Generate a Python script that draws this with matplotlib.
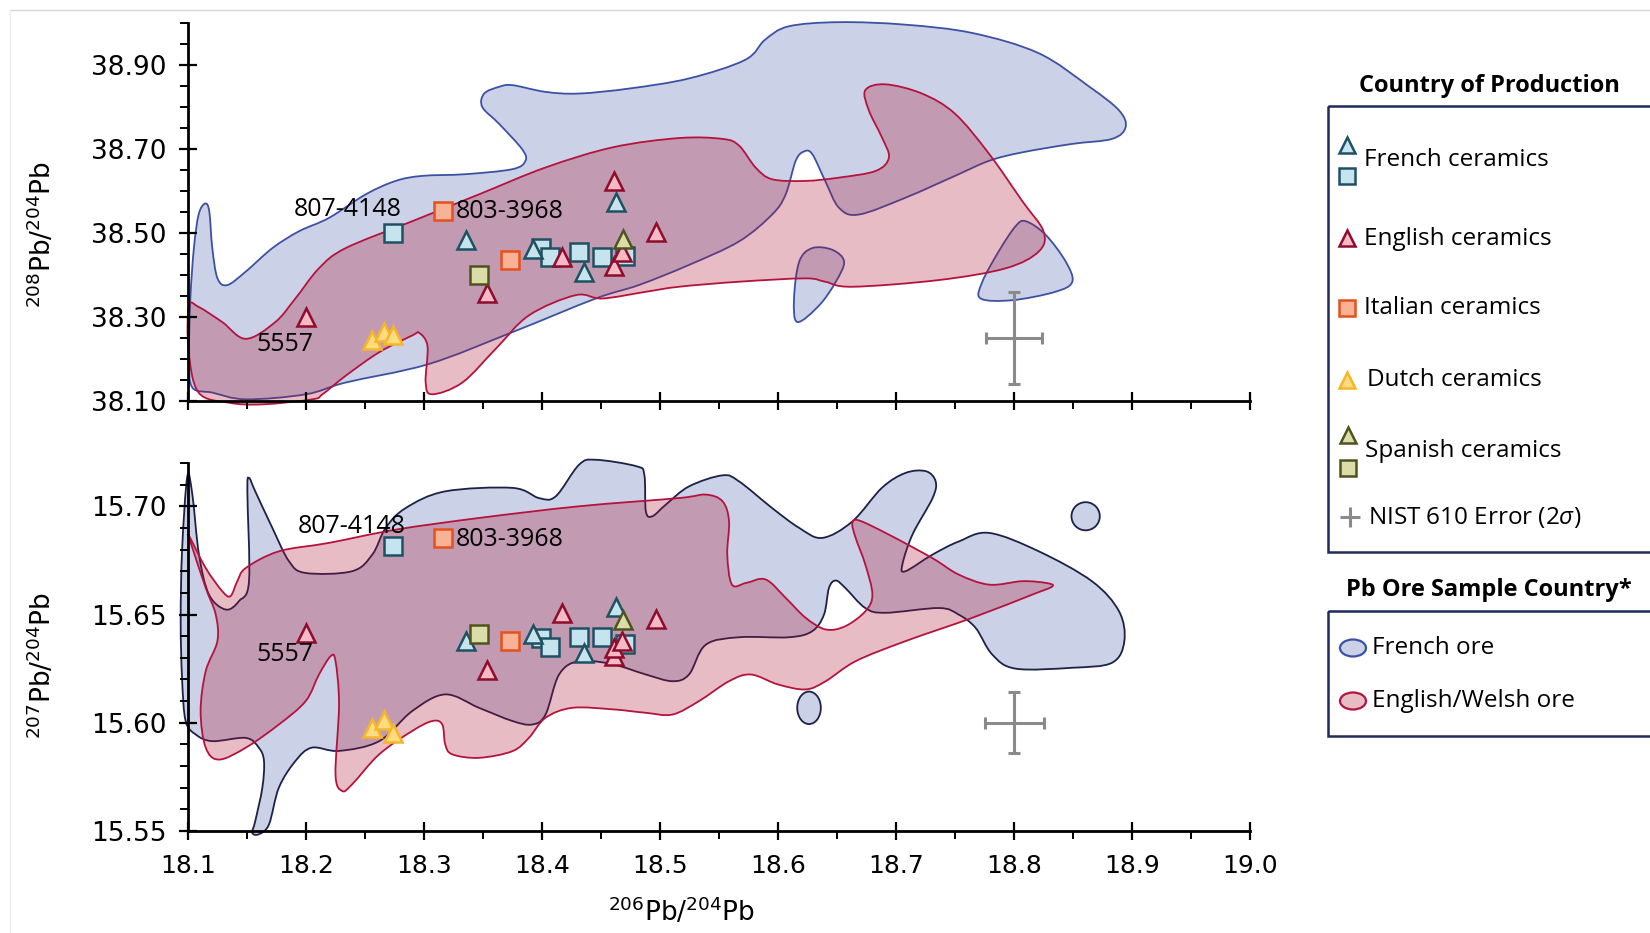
import numpy as np
import matplotlib
matplotlib.use("Agg")
import matplotlib.pyplot as plt
from matplotlib.path import Path
from matplotlib.patches import PathPatch, Ellipse, Rectangle
from matplotlib.ticker import FixedLocator, MultipleLocator, FormatStrFormatter

plt.rcParams["mathtext.fontset"] = "custom"
plt.rcParams["mathtext.rm"] = "Liberation Sans Narrow"
plt.rcParams["mathtext.it"] = "Open Sans:italic"

# ── ceramics: 206Pb/204Pb, 208Pb/204Pb, 207Pb/204Pb ─────────────────
fr_tri_206 = [18.336, 18.392, 18.436, 18.463]
fr_tri_208 = [38.484, 38.462, 38.408, 38.574]
fr_tri_207 = [15.638, 15.641, 15.632, 15.6535]

fr_sq_206 = [18.274, 18.399, 18.407, 18.431, 18.451, 18.470]
fr_sq_208 = [38.500, 38.465, 38.444, 38.455, 38.444, 38.446]
fr_sq_207 = [15.6815, 15.639, 15.635, 15.6395, 15.6395, 15.6365]

en_206 = [18.200, 18.353, 18.417, 18.461, 18.461, 18.468, 18.497]
en_208 = [38.300, 38.356, 38.444, 38.623, 38.421, 38.455, 38.502]
en_207 = [15.6415, 15.6242, 15.6508, 15.6308, 15.6346, 15.6377, 15.648]

it_206 = [18.316, 18.373]
it_208 = [38.553, 38.436]
it_207 = [15.6854, 15.6377]

nl_206 = [18.256, 18.2665, 18.274]
nl_208 = [38.246, 38.265, 38.256]
nl_207 = [15.5977, 15.6015, 15.5954]

es_tri_206 = [18.469]
es_tri_208 = [38.486]
es_tri_207 = [15.6477]
es_sq_206 = [18.347]
es_sq_208 = [38.401]
es_sq_207 = [15.6408]

labels = ["807-4148", "803-3968", "5557"]

# NIST 610 2-sigma error
nist_206 = 18.80
nist_err_206 = [0.024, 0.025]
nist_208, nist_err_208 = 38.25, 0.11
nist_207, nist_err_207 = 15.60, 0.014

# ── ore fields (outline vertices) ─────────────────────────────────
fr_ore_208_x = [18.1037, 18.1008, 18.1020, 18.1050, 18.1090, 18.1144, 18.1180,
                18.1206, 18.1250, 18.1333, 18.1489, 18.1715, 18.1940, 18.2195,
                18.2506, 18.2760, 18.2986, 18.3350, 18.3750, 18.3860, 18.3830,
                18.3636, 18.3494, 18.3510, 18.3636, 18.3750, 18.4030, 18.4310,
                18.4740, 18.5246, 18.5720, 18.5890, 18.6090, 18.6517, 18.7080,
                18.7650, 18.8210, 18.8640, 18.8890, 18.8946, 18.8830, 18.8490,
                18.8070, 18.7790, 18.7500, 18.7080, 18.6686, 18.6517, 18.6400,
                18.6290, 18.6220, 18.6150, 18.6065, 18.5950, 18.5670, 18.5246,
                18.4820, 18.4455, 18.3750, 18.3040, 18.2336, 18.2000, 18.1490,
                18.1206]
fr_ore_208_y = [38.132, 38.200, 38.344, 38.464, 38.544, 38.570, 38.552,
                38.464, 38.392, 38.376, 38.408, 38.464, 38.504, 38.536,
                38.592, 38.624, 38.636, 38.640, 38.652, 38.672, 38.700,
                38.760, 38.800, 38.832, 38.848, 38.852, 38.836, 38.832,
                38.844, 38.868, 38.912, 38.960, 38.992, 39.002, 38.996,
                38.976, 38.928, 38.848, 38.792, 38.752, 38.724, 38.712,
                38.692, 38.672, 38.636, 38.584, 38.544, 38.560, 38.624,
                38.688, 38.694, 38.672, 38.592, 38.544, 38.480, 38.424,
                38.376, 38.344, 38.264, 38.188, 38.144, 38.116, 38.104,
                38.120]
fr_ore_208_spur_x = [18.6164, 18.6136, 18.6180, 18.6290, 18.6460, 18.6560, 18.6490, 18.6350]
fr_ore_208_spur_y = [38.288, 38.344, 38.432, 38.464, 38.460, 38.432, 38.384, 38.328]
fr_ore_208_east_x = [18.8100, 18.8267, 18.8438, 18.8494, 18.8350, 18.7986, 18.7718,
                     18.7732, 18.7870, 18.8013]
fr_ore_208_east_y = [38.528, 38.496, 38.432, 38.384, 38.360, 38.340, 38.344,
                     38.384, 38.456, 38.516]

en_ore_208_x = [18.1008, 18.1090, 18.1290, 18.1490, 18.1740, 18.1910, 18.2110,
                18.2336, 18.2900, 18.3466, 18.4030, 18.4600, 18.5160, 18.5530,
                18.5670, 18.5810, 18.5950, 18.6230, 18.6520, 18.6830, 18.6940,
                18.6880, 18.6770, 18.6740, 18.6910, 18.7220, 18.7500, 18.7790,
                18.8070, 18.8250, 18.8210, 18.7930, 18.7364, 18.6630, 18.6400,
                18.6230, 18.5670, 18.5160, 18.4879, 18.4510, 18.4285, 18.3890,
                18.3607, 18.3325, 18.3070, 18.3014, 18.3030, 18.2960, 18.2900,
                18.2620, 18.2336, 18.2140, 18.2054, 18.1630, 18.1347, 18.1090,
                18.1005]
en_ore_208_y = [38.326, 38.324, 38.288, 38.248, 38.288, 38.344, 38.416,
                38.464, 38.528, 38.592, 38.656, 38.704, 38.726, 38.724,
                38.708, 38.656, 38.628, 38.624, 38.632, 38.648, 38.680,
                38.728, 38.792, 38.840, 38.854, 38.832, 38.784, 38.688,
                38.576, 38.504, 38.456, 38.416, 38.388, 38.372, 38.384,
                38.392, 38.384, 38.372, 38.360, 38.344, 38.352, 38.304,
                38.224, 38.144, 38.116, 38.144, 38.230, 38.262, 38.256,
                38.216, 38.160, 38.116, 38.104, 38.092, 38.096, 38.120,
                38.220]

fr_ore_207_x = [18.0994, 18.0950, 18.0938, 18.0950, 18.0980, 18.1065, 18.1206,
                18.1490, 18.1600, 18.1644, 18.1630, 18.1570, 18.1545, 18.1600,
                18.1686, 18.1770, 18.1910, 18.2050, 18.2280, 18.2620, 18.2900,
                18.3180, 18.3466, 18.3750, 18.3918, 18.4030, 18.4145, 18.4314,
                18.4600, 18.4880, 18.5105, 18.5246, 18.5387, 18.5670, 18.6093,
                18.6290, 18.6390, 18.6432, 18.6490, 18.6570, 18.6740, 18.6910,
                18.7364, 18.7530, 18.7675, 18.7816, 18.8014, 18.8490, 18.8830,
                18.8935, 18.8890, 18.8660, 18.8210, 18.7790, 18.7534, 18.7310,
                18.7080, 18.7054, 18.7140, 18.7310, 18.7336, 18.7254, 18.7080,
                18.6880, 18.6630, 18.6376, 18.6180, 18.5950, 18.5670, 18.5530,
                18.5246, 18.5050, 18.4935, 18.4880, 18.4867, 18.4800, 18.4455,
                18.4314, 18.4116, 18.3975, 18.3750, 18.3180, 18.2845, 18.2675,
                18.2562, 18.2390, 18.1997, 18.1856, 18.1715, 18.1570, 18.1517,
                18.1503, 18.1517, 18.1432, 18.1320, 18.1178, 18.1093, 18.1037]
fr_ore_207_y = [15.7138, 15.6800, 15.6470, 15.6200, 15.6008, 15.5946, 15.5915,
                15.5930, 15.5885, 15.5823, 15.5700, 15.5546, 15.5492, 15.5485,
                15.5530, 15.5700, 15.5823, 15.5885, 15.5870, 15.5915, 15.6054,
                15.6131, 15.6069, 15.6008, 15.5992, 15.6038, 15.6223, 15.6285,
                15.6270, 15.6223, 15.6192, 15.6223, 15.6360, 15.6395, 15.6395,
                15.6423, 15.6500, 15.6623, 15.6657, 15.6623, 15.6530, 15.6508,
                15.6530, 15.6500, 15.6438, 15.6315, 15.6250, 15.6254, 15.6277,
                15.6377, 15.6515, 15.6654, 15.6792, 15.6877, 15.6838, 15.6777,
                15.6700, 15.6731, 15.6870, 15.7038, 15.7115, 15.7162, 15.7154,
                15.7085, 15.6930, 15.6854, 15.6900, 15.6992, 15.7115, 15.7143,
                15.7092, 15.7008, 15.6954, 15.6977, 15.7146, 15.7185, 15.7215,
                15.7192, 15.7046, 15.7038, 15.7085, 15.7069, 15.6992, 15.6900,
                15.6777, 15.6700, 15.6692, 15.6746, 15.6900, 15.7069, 15.7131,
                15.7069, 15.6654, 15.6562, 15.6523, 15.6592, 15.6777, 15.7054]
# isolated French ore samples: centre and size
fr_ore_207_blobs = [(18.8607, 15.6954, 0.024, 0.013),
                    (18.6263, 15.6069, 0.020, 0.0150)]

en_ore_207_x = [18.1003, 18.1150, 18.1290, 18.1360, 18.1418, 18.1490, 18.1770,
                18.2195, 18.2760, 18.3466, 18.4314, 18.5160, 18.5387, 18.5530,
                18.5585, 18.5570, 18.5610, 18.5730, 18.5895, 18.6065, 18.6234,
                18.6404, 18.6570, 18.6740, 18.6800, 18.6740, 18.6658, 18.6630,
                18.6690, 18.6940, 18.7310, 18.7530, 18.7790, 18.8070, 18.8270,
                18.8325, 18.8155, 18.7647, 18.7080, 18.6660, 18.6404, 18.6234,
                18.6000, 18.5770, 18.5585, 18.5330, 18.5105, 18.4880, 18.4600,
                18.4257, 18.4030, 18.3890, 18.3750, 18.3466, 18.3240, 18.3180,
                18.3155, 18.3070, 18.2900, 18.2620, 18.2390, 18.2306, 18.2250,
                18.2280, 18.2250, 18.2210, 18.2110, 18.1997, 18.1770, 18.1490,
                18.1263, 18.1150, 18.1107, 18.1150, 18.1249, 18.1235, 18.1150,
                18.1037]
en_ore_207_y = [15.6869, 15.6715, 15.6608, 15.6585, 15.6654, 15.6715, 15.6792,
                15.6831, 15.6892, 15.6946, 15.7000, 15.7038, 15.7054, 15.7023,
                15.6931, 15.6777, 15.6638, 15.6646, 15.6662, 15.6577, 15.6485,
                15.6431, 15.6446, 15.6515, 15.6592, 15.6731, 15.6854, 15.6923,
                15.6934, 15.6869, 15.6760, 15.6685, 15.6638, 15.6654, 15.6646,
                15.6630, 15.6592, 15.6485, 15.6377, 15.6285, 15.6192, 15.6154,
                15.6177, 15.6223, 15.6192, 15.6100, 15.6038, 15.6046, 15.6062,
                15.6069, 15.6023, 15.5931, 15.5869, 15.5838, 15.5854, 15.5900,
                15.5992, 15.6008, 15.5962, 15.5854, 15.5715, 15.5685, 15.5762,
                15.6085, 15.6285, 15.6308, 15.6223, 15.6100, 15.5992, 15.5885,
                15.5830, 15.5885, 15.6054, 15.6238, 15.6377, 15.6500, 15.6623,
                15.6808]

# ── colours ────────────────────────────────────────────────────────
FR_ORE_FACE = (0.20, 0.29, 0.61, 0.25)
FR_ORE_EDGE_TOP = "#3d51a3"
FR_ORE_EDGE_BOT = "#1d2148"
EN_ORE_FACE = (0.68, 0.06, 0.19, 0.28)
EN_ORE_EDGE = "#b3133c"

STYLE = {
    "fr": dict(mfc="#c6e4ee", mec="#1e5163"),
    "en": dict(mfc="#f8b9c6", mec="#8e0c2c"),
    "it": dict(mfc="#f8b296", mec="#e5501b"),
    "nl": dict(mfc="#ffdc80", mec="#f6b62a"),
    "es": dict(mfc="#dcdca8", mec="#4e5320"),
}
MS = 12.5
MEW = 1.8
NIST_GREY = "#8a8a8a"

TEXT_FONT = "Open Sans"
NARROW_FONT = "Liberation Sans Narrow"


def smooth_closed(xs, ys):
    """Closed Catmull-Rom outline through the vertices, as cubic Beziers."""
    p = np.column_stack([xs, ys])
    n = len(p)
    verts = [p[0]]
    codes = [Path.MOVETO]
    for i in range(n):
        p0, p1, p2, p3 = p[i - 1], p[i], p[(i + 1) % n], p[(i + 2) % n]
        verts += [p1 + (p2 - p0) / 6.0, p2 - (p3 - p1) / 6.0, p2]
        codes += [Path.CURVE4] * 3
    verts.append(p[0])
    codes.append(Path.CLOSEPOLY)
    return Path(verts, codes)


def add_field(ax, xs, ys, face, edge):
    ax.add_patch(PathPatch(smooth_closed(xs, ys), facecolor=face, edgecolor=edge,
                           lw=1.3, clip_on=False, zorder=1))


def draw_ceramics(ax, ycol):
    sets = [
        (fr_sq_206, fr_sq_208, fr_sq_207, "s", "fr"),
        (fr_tri_206, fr_tri_208, fr_tri_207, "^", "fr"),
        (en_206, en_208, en_207, "^", "en"),
        (it_206, it_208, it_207, "s", "it"),
        (nl_206, nl_208, nl_207, "^", "nl"),
        (es_tri_206, es_tri_208, es_tri_207, "^", "es"),
        (es_sq_206, es_sq_208, es_sq_207, "s", "es"),
    ]
    for x, y208, y207, mk, key in sets:
        y = y208 if ycol == 208 else y207
        ax.plot(x, y, ls="none", marker=mk, ms=MS, mew=MEW, zorder=4, **STYLE[key])


def style_axis(ax):
    for side in ("top", "right"):
        ax.spines[side].set_visible(False)
    for side in ("left", "bottom"):
        ax.spines[side].set_linewidth(2.0)
    ax.set_facecolor("none")
    ax.set_xlim(18.1, 19.0)
    ax.xaxis.set_major_locator(MultipleLocator(0.1))
    ax.xaxis.set_minor_locator(MultipleLocator(0.05))
    ax.tick_params(which="major", direction="inout", length=13, width=1.6)
    ax.tick_params(which="minor", direction="out", length=6, width=1.4)
    ax.tick_params(axis="y", which="major", pad=9, labelsize=19)
    ax.tick_params(axis="x", which="major", pad=10)
    for lbl in ax.get_yticklabels():
        lbl.set_fontfamily("DejaVu Sans")


fig = plt.figure(figsize=(16.5, 9.33), dpi=100)
W, H = 1650, 933

ax1 = fig.add_axes([188 / W, 1 - 401 / H, 1062 / W, 378 / H])
ax2 = fig.add_axes([188 / W, 1 - 831 / H, 1062 / W, 368 / H])

# 208Pb/204Pb panel
add_field(ax1, fr_ore_208_x, fr_ore_208_y, FR_ORE_FACE, FR_ORE_EDGE_TOP)
add_field(ax1, fr_ore_208_spur_x, fr_ore_208_spur_y, FR_ORE_FACE, FR_ORE_EDGE_TOP)
add_field(ax1, fr_ore_208_east_x, fr_ore_208_east_y, FR_ORE_FACE, FR_ORE_EDGE_TOP)
add_field(ax1, en_ore_208_x, en_ore_208_y, EN_ORE_FACE, EN_ORE_EDGE)
draw_ceramics(ax1, 208)
ax1.errorbar(nist_206, nist_208, xerr=nist_err_206[0], yerr=nist_err_208,
             fmt="none", ecolor=NIST_GREY, elinewidth=2.2, capsize=4, capthick=2.2)
ax1.set_ylim(38.10, 39.0)
ax1.yaxis.set_major_locator(FixedLocator([38.10, 38.30, 38.50, 38.70, 38.90]))
ax1.yaxis.set_minor_locator(MultipleLocator(0.05))
ax1.yaxis.set_major_formatter(FormatStrFormatter("%.2f"))
style_axis(ax1)
ax1.tick_params(axis="x", labelbottom=False)

# 207Pb/204Pb panel
add_field(ax2, fr_ore_207_x, fr_ore_207_y, FR_ORE_FACE, FR_ORE_EDGE_BOT)
for cx, cy, w, h in fr_ore_207_blobs:
    ax2.add_patch(Ellipse((cx, cy), w, h, facecolor=FR_ORE_FACE,
                          edgecolor=FR_ORE_EDGE_BOT, lw=1.3, zorder=1))
add_field(ax2, en_ore_207_x, en_ore_207_y, EN_ORE_FACE, EN_ORE_EDGE)
draw_ceramics(ax2, 207)
ax2.errorbar(nist_206, nist_207, xerr=nist_err_206[1], yerr=nist_err_207,
             fmt="none", ecolor=NIST_GREY, elinewidth=2.2, capsize=4, capthick=2.2)
ax2.set_ylim(15.55, 15.72)
ax2.yaxis.set_major_locator(FixedLocator([15.55, 15.60, 15.65, 15.70]))
ax2.yaxis.set_minor_locator(MultipleLocator(0.01))
ax2.yaxis.set_major_formatter(FormatStrFormatter("%.2f"))
style_axis(ax2)
ax2.xaxis.set_major_formatter(FormatStrFormatter("%.1f"))
for lbl in ax2.get_xticklabels():
    lbl.set_fontfamily(NARROW_FONT)
    lbl.set_fontsize(18)

# sample labels
ann = dict(textcoords="offset pixels", fontsize=18, family=TEXT_FONT, va="center", zorder=5)
ax1.annotate(labels[0], (fr_sq_206[0], fr_sq_208[0]), xytext=(-46, 24), ha="center", **ann)
ax1.annotate(labels[1], (it_206[0], it_208[0]), xytext=(13, -1), ha="left", **ann)
ax1.annotate(labels[2], (en_206[0], en_208[0]), xytext=(-21, -27), ha="center", **ann)
ax2.annotate(labels[0], (fr_sq_206[0], fr_sq_207[0]), xytext=(-42, 20), ha="center", **ann)
ax2.annotate(labels[1], (it_206[0], it_207[0]), xytext=(13, -2), ha="left", **ann)
ax2.annotate(labels[2], (en_206[0], en_207[0]), xytext=(-21, -22), ha="center", **ann)

# axis titles
fig.text(42 / W, 1 - 234 / H, r"$^{208}$Pb/$^{204}$Pb", rotation=90, ha="center",
         va="center", fontsize=19, family=NARROW_FONT)
fig.text(42 / W, 1 - 665 / H, r"$^{207}$Pb/$^{204}$Pb", rotation=90, ha="center",
         va="center", fontsize=19, family=NARROW_FONT)
fig.text(682 / W, 1 - 912 / H, r"$^{206}$Pb/$^{204}$Pb", ha="center",
         va="center", fontsize=19, family=NARROW_FONT)

# ── legend panel, drawn in pixel units ───────────────────────────
lax = fig.add_axes([0, 0, 1, 1], zorder=6)
lax.set_xlim(0, W)
lax.set_ylim(H, 0)
lax.axis("off")

lax.plot([10, W], [10, 10], color="#d6d6d6", lw=1)
lax.plot([10, 10], [10, H], color="#ececec", lw=1)

BOX_EDGE = "#1f2a5a"
lax.add_patch(Rectangle((1328, 106), 360, 446, fill=False, ec=BOX_EDGE, lw=1.8))
lax.add_patch(Rectangle((1328, 611), 360, 125, fill=False, ec=BOX_EDGE, lw=1.8))
lax.text(1489, 86, "Country of Production", ha="center", va="center",
         fontsize=17, fontweight="bold", family=TEXT_FONT)
lax.text(1489, 590, "Pb Ore Sample Country*", ha="center", va="center",
         fontsize=17, fontweight="bold", family=TEXT_FONT)

leg_marks = [
    (1347, 145, "^", "fr"), (1347, 176, "s", "fr"),
    (1347, 238, "^", "en"),
    (1347, 308, "s", "it"),
    (1347, 380, "^", "nl"),
    (1348, 435, "^", "es"), (1348, 468, "s", "es"),
]
for x, y, mk, key in leg_marks:
    lax.plot([x], [y], marker=mk, ms=11, mew=1.8, ls="none", **STYLE[key])
lax.plot([1350], [517], marker="+", ms=15, mew=2.2, color=NIST_GREY, ls="none")

leg_text = dict(fontsize=17.5, family=TEXT_FONT, va="center", ha="left")
lax.text(1364, 160, "French ceramics", **leg_text)
lax.text(1364, 239, "English ceramics", **leg_text)
lax.text(1364, 308, "Italian ceramics", **leg_text)
lax.text(1367, 380, "Dutch ceramics", **leg_text)
lax.text(1365, 451, "Spanish ceramics", **leg_text)
lax.text(1368, 517, r"NIST 610 Error (2$\sigma$)", **leg_text)

lax.add_patch(Ellipse((1353, 648), 26, 17, facecolor=FR_ORE_FACE,
                      edgecolor=FR_ORE_EDGE_TOP, lw=1.6))
lax.add_patch(Ellipse((1353, 701), 26, 17, facecolor=EN_ORE_FACE,
                      edgecolor=EN_ORE_EDGE, lw=1.6))
lax.text(1372, 648, "French ore", **leg_text)
lax.text(1372, 701, "English/Welsh ore", **leg_text)

fig.savefig("out.png", dpi=100)
